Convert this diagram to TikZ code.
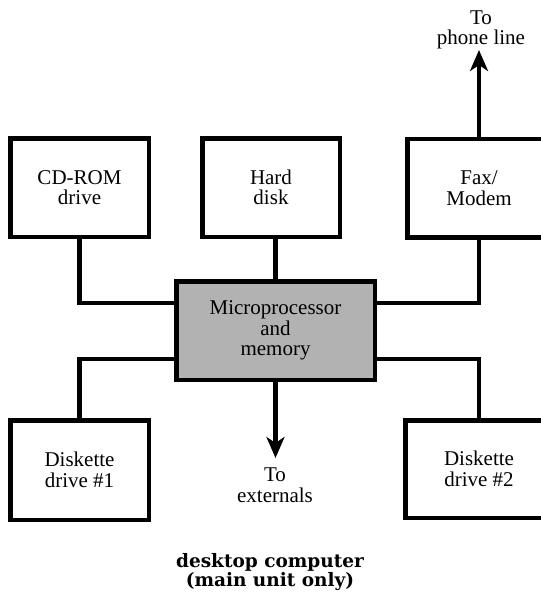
\documentclass[tikz,border=0pt]{standalone}
\usepackage{fontspec}
\setmainfont{Liberation Serif}
\newfontfamily\titlefont{DejaVu Serif}
\usetikzlibrary{arrows.meta}
\begin{document}
\begin{tikzpicture}[x=1pt,y=-1pt,
  every node/.style={font=\fontsize{21}{20.5}\selectfont, align=center, inner sep=0pt},
  unitbox/.style={draw=black, line width=4.5pt, fill=white, minimum height=98.5pt},
  wire/.style={line width=4.5pt, line join=miter},
  arr/.style={wire, -{Stealth[length=21pt,width=18pt,inset=6pt]}}]
\useasboundingbox (0,0) rectangle (541,592);
\node[unitbox, minimum width=138.5pt] (cd) at (79.5,187.5) {CD-ROM\\drive};
\node[unitbox, minimum width=137.5pt] (hd) at (271,187.5) {Hard\\disk};
\node[unitbox, minimum width=143.5pt] (fax) at (479,188) {Fax/\\Modem};
\node[unitbox, minimum width=198.5pt, fill=black!30] (mp) at (275.5,330.5) {Microprocessor\\and\\memory};
\node[unitbox, minimum width=138.5pt, minimum height=99.5pt] (dk1) at (79.5,470) {Diskette\\drive \#1};
\node[unitbox, minimum width=147.5pt, minimum height=97.5pt] (dk2) at (479,469) {Diskette\\drive \#2};
\coordinate (phone) at (479,50);
\coordinate (ext) at (275.5,458);
\node (phonelbl) at (481,30) {To\\phone line};
\node (extlbl) at (275,485) {To\\externals};
\node[font=\titlefont\bfseries\fontsize{18.5}{19.5}\selectfont] (title) at (270,572) {desktop computer\\(main unit only)};
\draw[wire] (cd.south) |- ([yshift=27.5pt]mp.west);
\draw[wire] (fax.south) |- ([yshift=27.5pt]mp.east);
\draw[wire] (dk1.north) |- ([yshift=-28.5pt]mp.west);
\draw[wire] (dk2.north) |- ([yshift=-28.5pt]mp.east);
\draw[wire] (mp.north |- hd.south) -- (mp.north);
\draw[arr] (fax.north) -- (phone);
\draw[arr] (mp.south) -- (ext);
\end{tikzpicture}
\end{document}
